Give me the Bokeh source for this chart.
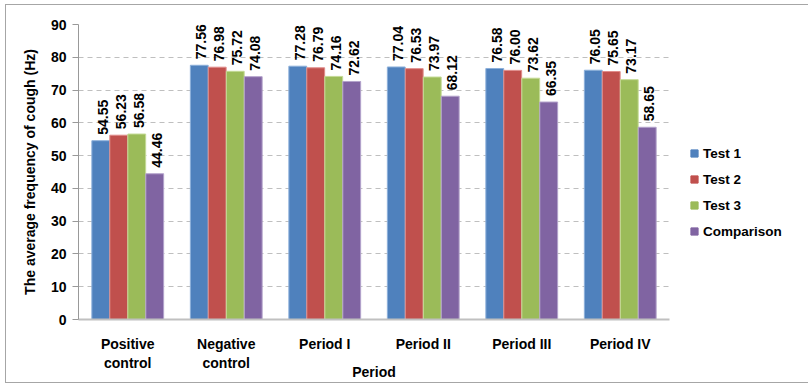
from math import pi
from bokeh.plotting import figure
from bokeh.models import (FactorRange, Range1d, ColumnDataSource, LabelSet, Legend,
                          LegendItem, SingleIntervalTicker)
from bokeh.core.properties import value
from bokeh.transform import dodge
from bokeh.embed import file_html
from bokeh.resources import INLINE

categories = ["Positive\ncontrol", "Negative\ncontrol", "Period I", "Period II", "Period III", "Period IV"]
test1 = [54.55, 77.56, 77.28, 77.04, 76.58, 76.05]
test2 = [56.23, 76.98, 76.79, 76.53, 76.00, 75.65]
test3 = [56.58, 75.72, 74.16, 73.97, 73.62, 73.17]
comparison = [44.46, 74.08, 72.62, 68.12, 66.35, 58.65]

series_names = ["Test 1", "Test 2", "Test 3", "Comparison"]
series_values = [test1, test2, test3, comparison]
colors = ["#4F81BD", "#C0504D", "#9BBB59", "#8064A2"]
edge_colors = ["#8DB0DA", "#E08C8A", "#C4DA95", "#B3A2CB"]
offsets = [-0.274, -0.0915, 0.0915, 0.274]
bar_width = 0.181

FONT = "Liberation Sans"

p = figure(frame_width=591, frame_height=295, x_range=FactorRange(factors=categories),
           y_range=Range1d(0, 90), output_backend="svg", toolbar_location=None,
           min_border_left=72, min_border_right=132, min_border_top=19, min_border_bottom=61)
p.styles = {"border": "1px solid #A6A6A6", "margin-left": "5px", "margin-top": "4px"}
p.outline_line_color = None
p.background_fill_color = "white"

data = {"cat": categories}
for i, vals in enumerate(series_values):
    data[f"v{i}"] = vals
    data[f"t{i}"] = [f"{v:.2f}" for v in vals]
src = ColumnDataSource(data)

legend_items = []
for i, name in enumerate(series_names):
    xs = dodge("cat", offsets[i], range=p.x_range)
    p.vbar(x=xs, top=f"v{i}", width=bar_width,
           source=src, fill_color=colors[i], line_color=edge_colors[i], line_width=1)
    labels = LabelSet(x=xs, y=f"v{i}", text=f"t{i}",
                      source=src, angle=pi / 2, text_align="left", text_baseline="middle",
                      y_offset=6, x_offset=2, text_font=value(FONT), text_font_style="bold",
                      text_font_size="14px", text_color="black")
    p.add_layout(labels)
    # legend swatch renderer (zero size on the plot; the legend draws its own swatch)
    proxy = p.scatter(x=xs, y=f"v{i}", source=src, size=0, marker="square",
                      fill_color=colors[i], line_color=colors[i])
    legend_items.append(LegendItem(label=name, renderers=[proxy]))

legend = Legend(items=legend_items, location="top_left", padding=0, margin=16,
                title=" ", title_text_font_size="14px", title_standoff=88,
                glyph_width=18, glyph_height=18, label_height=18, spacing=8,
                label_standoff=0, border_line_color=None, background_fill_alpha=0,
                label_text_font=FONT, label_text_font_style="bold", label_text_font_size="13.5px",
                label_text_color="black")
p.add_layout(legend, "right")

# grid
p.xgrid.grid_line_color = None
p.ygrid.grid_line_color = "#BFBFBF"
p.ygrid.grid_line_dash = "5 4"
p.ygrid.grid_line_width = 1

# y axis
p.yaxis.ticker = SingleIntervalTicker(interval=10)
p.yaxis.axis_line_color = "#999999"
p.yaxis.major_tick_line_color = "#999999"
p.yaxis.major_tick_out = 6
p.yaxis.major_tick_in = 0
p.yaxis.minor_tick_line_color = None
p.yaxis.major_label_text_font = FONT
p.yaxis.major_label_text_font_style = "bold"
p.yaxis.major_label_text_font_size = "14px"
p.yaxis.major_label_text_color = "black"
p.yaxis.major_label_standoff = 6
p.yaxis.axis_label = "The average frequency of cough (Hz)"
p.yaxis.axis_label_text_font = FONT
p.yaxis.axis_label_text_font_style = "bold"
p.yaxis.axis_label_text_font_size = "14px"
p.yaxis.axis_label_text_color = "black"
p.yaxis.axis_label_standoff = 10

# x axis
p.xaxis.axis_line_color = "#C0C0C0"
p.xaxis.axis_line_width = 2
p.xaxis.major_tick_line_color = None
p.xaxis.minor_tick_line_color = None
p.xaxis.major_label_text_font = FONT
p.xaxis.major_label_text_font_style = "bold"
p.xaxis.major_label_text_font_size = "14px"
p.xaxis.major_label_text_color = "black"
p.xaxis.major_label_standoff = 10
p.xaxis.major_label_orientation = "horizontal"
p.xaxis.axis_label = "Period"
p.xaxis.axis_label_text_font = FONT
p.xaxis.axis_label_text_font_style = "bold"
p.xaxis.axis_label_text_font_size = "14px"
p.xaxis.axis_label_text_color = "black"
p.xaxis.axis_label_standoff = -10

open("out.html", "w").write(file_html(p, INLINE))
